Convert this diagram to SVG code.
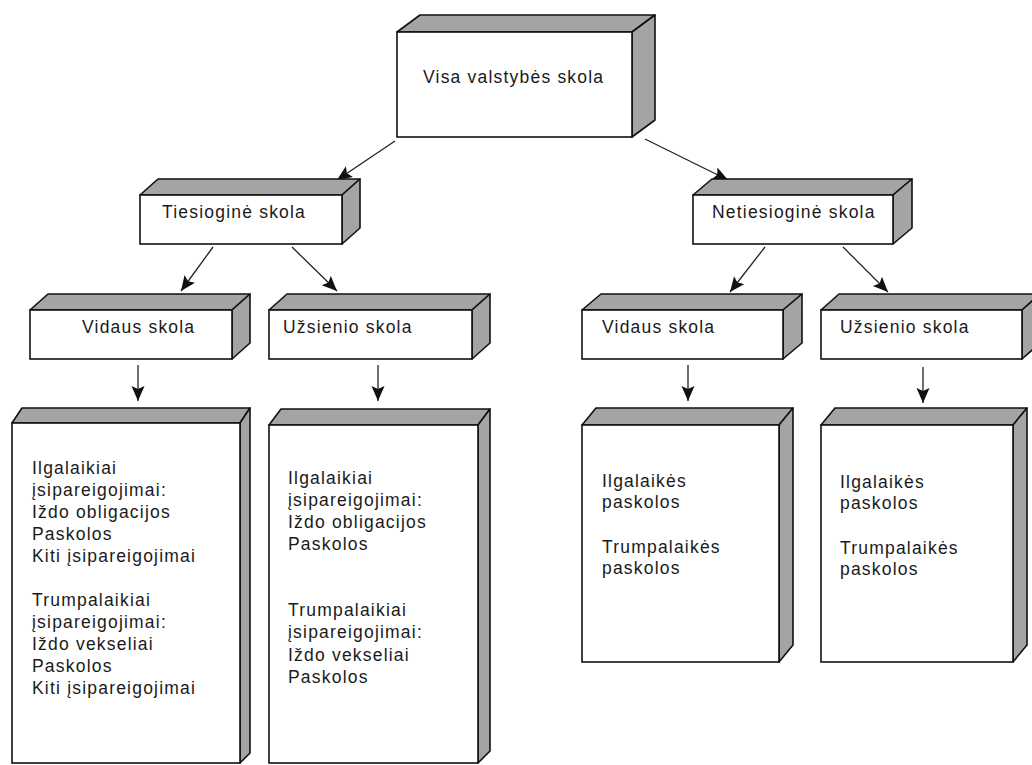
<svg xmlns="http://www.w3.org/2000/svg" width="1032" height="765" viewBox="0 0 1032 765">
<defs>
<style>
.face{fill:#ffffff;stroke:#111;stroke-width:1.6}
.shade{fill:#a4a4a4;stroke:#111;stroke-width:1.6;stroke-linejoin:round}
.t{font-family:"Liberation Sans",Arial,sans-serif;font-size:17.5px;letter-spacing:1.2px;fill:#1a1a1a}
.conn{stroke:#222;stroke-width:1.3;fill:none;marker-end:url(#ah)}
</style>
<marker id="ah" markerUnits="userSpaceOnUse" markerWidth="16" markerHeight="14" refX="15" refY="6.5" orient="auto">
<path d="M0,0 L15,6.5 L0,13 L3,6.5 z" fill="#111"/>
</marker>
</defs>
<rect width="1032" height="765" fill="#ffffff"/>

<g id="connectors">
<line class="conn" x1="395" y1="141" x2="337" y2="180"/>
<line class="conn" x1="645" y1="139" x2="728" y2="180"/>
<line class="conn" x1="213" y1="247" x2="181" y2="291"/>
<line class="conn" x1="292" y1="247" x2="337" y2="291"/>
<line class="conn" x1="765" y1="247" x2="730" y2="292"/>
<line class="conn" x1="843" y1="247" x2="888" y2="292"/>
<line class="conn" x1="138" y1="365" x2="138" y2="401"/>
<line class="conn" x1="378" y1="365" x2="378" y2="401"/>
<line class="conn" x1="688" y1="365" x2="688" y2="401"/>
<line class="conn" x1="923" y1="367" x2="923" y2="403"/>
</g>

<g id="n-visa">
<polygon class="shade" points="397,32 420,15 655,15 632,32"/>
<polygon class="shade" points="632,32 655,15 655,120 632,137"/>
<rect class="face" x="397" y="32" width="235" height="105"/>
<text class="t" x="423" y="83">Visa valstybės skola</text>
</g>

<g id="n-tiesiogine">
<polygon class="shade" points="140,195 158,179 360,179 342,195"/>
<polygon class="shade" points="342,195 360,179 360,228 342,244"/>
<rect class="face" x="140" y="195" width="202" height="49"/>
<text class="t" x="162" y="218">Tiesioginė skola</text>
</g>

<g id="n-netiesiogine">
<polygon class="shade" points="693,195 712,179 912,179 893,195"/>
<polygon class="shade" points="893,195 912,179 912,228 893,244"/>
<rect class="face" x="693" y="195" width="200" height="49"/>
<text class="t" x="712" y="218">Netiesioginė skola</text>
</g>

<g id="n-vidaus-l">
<polygon class="shade" points="30,310 48,294 250,294 232,310"/>
<polygon class="shade" points="232,310 250,294 250,343 232,359"/>
<rect class="face" x="30" y="310" width="202" height="49"/>
<text class="t" x="82" y="333">Vidaus skola</text>
</g>

<g id="n-uzsienio-l">
<polygon class="shade" points="269,310 287,294 490,294 472,310"/>
<polygon class="shade" points="472,310 490,294 490,343 472,359"/>
<rect class="face" x="269" y="310" width="203" height="49"/>
<text class="t" x="283" y="333">Užsienio skola</text>
</g>

<g id="n-vidaus-r">
<polygon class="shade" points="582,310 601,294 802,294 783,310"/>
<polygon class="shade" points="783,310 802,294 802,343 783,359"/>
<rect class="face" x="582" y="310" width="201" height="49"/>
<text class="t" x="602" y="333">Vidaus skola</text>
</g>

<g id="n-uzsienio-r">
<polygon class="shade" points="821,310 839,294 1040,294 1022,310"/>
<polygon class="shade" points="1022,310 1040,294 1040,343 1022,359"/>
<rect class="face" x="821" y="310" width="201" height="49"/>
<text class="t" x="840" y="333">Užsienio skola</text>
</g>

<g id="n-list-1">
<polygon class="shade" points="12,423 22,408 250,408 240,423"/>
<polygon class="shade" points="240,423 250,408 250,753 240,763"/>
<rect class="face" x="12" y="423" width="228" height="340"/>
<text class="t" x="32" y="474">Ilgalaikiai</text>
<text class="t" x="32" y="496">įsipareigojimai:</text>
<text class="t" x="32" y="518">Iždo obligacijos</text>
<text class="t" x="32" y="540">Paskolos</text>
<text class="t" x="32" y="562">Kiti įsipareigojimai</text>
<text class="t" x="32" y="606">Trumpalaikiai</text>
<text class="t" x="32" y="628">įsipareigojimai:</text>
<text class="t" x="32" y="650">Iždo vekseliai</text>
<text class="t" x="32" y="672">Paskolos</text>
<text class="t" x="32" y="694">Kiti įsipareigojimai</text>
</g>

<g id="n-list-2">
<polygon class="shade" points="269,425 281,409 490,409 478,425"/>
<polygon class="shade" points="478,425 490,409 490,751 478,763"/>
<rect class="face" x="269" y="425" width="209" height="338"/>
<text class="t" x="288" y="484">Ilgalaikiai</text>
<text class="t" x="288" y="506">įsipareigojimai:</text>
<text class="t" x="288" y="528">Iždo obligacijos</text>
<text class="t" x="288" y="550">Paskolos</text>
<text class="t" x="288" y="616">Trumpalaikiai</text>
<text class="t" x="288" y="638">įsipareigojimai:</text>
<text class="t" x="288" y="661">Iždo vekseliai</text>
<text class="t" x="288" y="683">Paskolos</text>
</g>

<g id="n-list-3">
<polygon class="shade" points="582,425 596,408 793,408 779,425"/>
<polygon class="shade" points="779,425 793,408 793,645 779,662"/>
<rect class="face" x="582" y="425" width="197" height="237"/>
<text class="t" x="602" y="487">Ilgalaikės</text>
<text class="t" x="602" y="508">paskolos</text>
<text class="t" x="602" y="553">Trumpalaikės</text>
<text class="t" x="602" y="574">paskolos</text>
</g>

<g id="n-list-4">
<polygon class="shade" points="821,425 835,408 1027,408 1013,425"/>
<polygon class="shade" points="1013,425 1027,408 1027,645 1013,662"/>
<rect class="face" x="821" y="425" width="192" height="237"/>
<text class="t" x="840" y="488">Ilgalaikės</text>
<text class="t" x="840" y="509">paskolos</text>
<text class="t" x="840" y="554">Trumpalaikės</text>
<text class="t" x="840" y="575">paskolos</text>
</g>
</svg>
